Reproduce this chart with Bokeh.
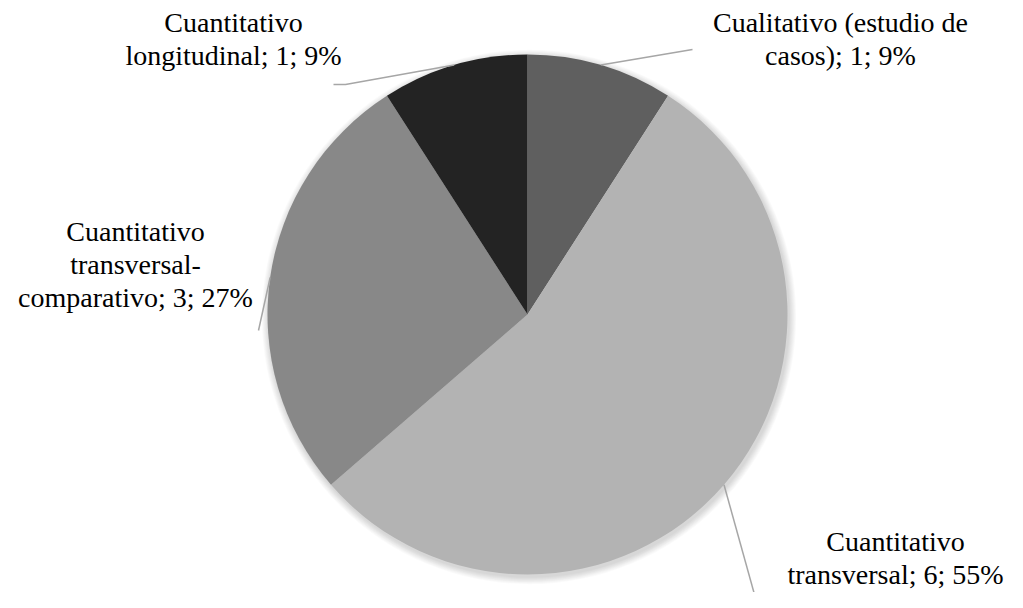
import math
from bokeh.plotting import figure
from bokeh.models import Range1d, ColumnDataSource, Label
from bokeh.embed import file_html
from bokeh.resources import INLINE

# ---- data ----
categories = ["Cualitativo (estudio de casos)", "Cuantitativo transversal",
              "Cuantitativo transversal-comparativo", "Cuantitativo longitudinal"]
counts = [1, 6, 3, 1]
colors = ["#5f5f5f", "#b3b3b3", "#888888", "#232323"]
# how each category name wraps in its label
name_lines = [["Cualitativo (estudio de", "casos)"],
              ["Cuantitativo", "transversal"],
              ["Cuantitativo", "transversal-", "comparativo"],
              ["Cuantitativo", "longitudinal"]]

# ---- layout (pixels, y measured from top of canvas) ----
W, H = 1007, 592
CX, CY, R = 527, 314, 260
label_center_x = [840, 895, 135, 233]
label_first_baseline = [33, 552, 242, 33]
line_gap = 33
baseline_fix = 11  # rendered text sits this much lower than requested
leader_ends = [[(692, 49)], [(759, 612)], [(258, 330)], [(345, 84), (333, 84)]]

def Y(ys):  # canvas y (from top) -> data y
    return H - ys

p = figure(width=W, height=H, output_backend="svg", toolbar_location=None,
           x_range=Range1d(0, W), y_range=Range1d(0, H),
           min_border=0, background_fill_color="white", border_fill_color="white")
p.axis.visible = False
p.grid.visible = False
p.outline_line_color = None

# soft shadow
for k in range(1, 9):
    p.circle(x=CX + 1.5, y=Y(CY + 2.5), radius=R + k * 0.9, fill_color="black",
             fill_alpha=0.018, line_color=None)

total = sum(counts)
starts, ends, mids = [], [], []
cum = 0
for c in counts:
    a0 = math.pi / 2 - 2 * math.pi * cum / total
    cum += c
    a1 = math.pi / 2 - 2 * math.pi * cum / total
    starts.append(a0)
    ends.append(a1)
    mids.append((a0 + a1) / 2)

src = ColumnDataSource(dict(start=starts, end=ends, color=colors, cat=categories))
p.wedge(x=CX, y=Y(CY), radius=R, start_angle="start", end_angle="end",
        direction="clock", fill_color="color", line_color=None, source=src)

# leader lines and labels
for i, c in enumerate(counts):
    sx = CX + R * math.cos(mids[i])
    sy = CY - R * math.sin(mids[i])
    xs = [sx] + [e[0] for e in leader_ends[i]]
    ys = [Y(sy)] + [Y(e[1]) for e in leader_ends[i]]
    p.line(xs, ys, line_color="#a6a6a6", line_width=1.5)

    pct = round(100 * c / total)
    lines = list(name_lines[i])
    lines[-1] = f"{lines[-1]}; {c}; {pct}%"
    for j, t in enumerate(lines):
        yb = label_first_baseline[i] + j * line_gap - baseline_fix
        p.add_layout(Label(x=label_center_x[i], y=Y(yb),
                           text=t, text_align="center", text_baseline="alphabetic",
                           text_font="Liberation Serif", text_font_size="28px",
                           text_color="#000000"))

open("out.html", "w").write(file_html(p, INLINE))
